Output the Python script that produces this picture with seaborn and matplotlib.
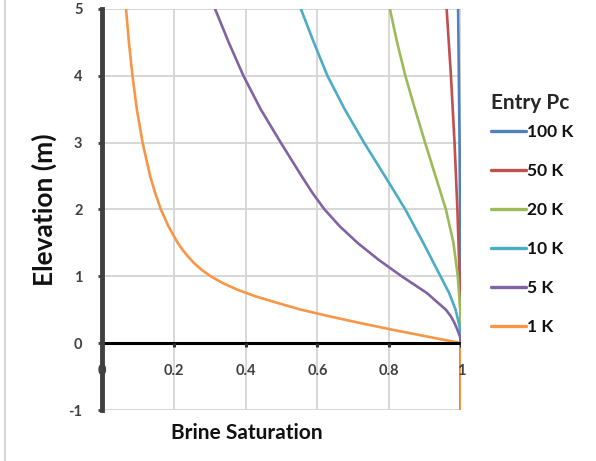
import matplotlib
matplotlib.use("Agg")
import matplotlib.pyplot as plt
from matplotlib.lines import Line2D
import seaborn as sns
import pandas as pd

# Brine saturation profiles vs elevation for each entry capillary pressure
elev_1k = [-1, 0, 0.1, 0.2, 0.3, 0.4, 0.5, 0.6, 0.7, 0.8, 0.9, 1.0, 1.1, 1.2,
           1.3, 1.4, 1.5, 1.75, 2.0, 2.25, 2.5, 3.0, 3.5, 4.0, 4.5, 5.0]
sat_1k = [1.0, 1.0, 0.905, 0.81, 0.72, 0.635, 0.555, 0.49, 0.428, 0.377, 0.336,
          0.303, 0.277, 0.256, 0.239, 0.224, 0.211, 0.185, 0.164, 0.148, 0.134,
          0.113, 0.097, 0.085, 0.075, 0.067]

elev_5k = [-1, 0, 0.1, 0.2, 0.3, 0.4, 0.5, 0.75, 1.0, 1.25, 1.5, 1.75, 2.0, 2.25,
           2.5, 3.0, 3.5, 4.0, 4.5, 5.0]
sat_5k = [1.0, 1.0, 0.997, 0.99, 0.982, 0.972, 0.958, 0.905, 0.835, 0.77, 0.712,
          0.662, 0.62, 0.586, 0.556, 0.498, 0.442, 0.394, 0.353, 0.315]

elev_10k = [-1, 0, 0.25, 0.5, 0.75, 1.0, 1.5, 2.0, 2.5, 3.0, 3.5, 4.0, 4.5, 5.0]
sat_10k = [1.0, 1.0, 0.996, 0.985, 0.967, 0.943, 0.895, 0.845, 0.788, 0.73,
           0.676, 0.628, 0.59, 0.554]

elev_20k = [-1, 0, 0.5, 1.0, 1.5, 2.0, 2.5, 3.0, 3.5, 4.0, 4.5, 5.0]
sat_20k = [1.0, 1.0, 0.998, 0.991, 0.979, 0.958, 0.929, 0.90, 0.872, 0.845,
           0.822, 0.802]

elev_50k = [-1, 0, 1.0, 2.0, 3.0, 4.0, 5.0]
sat_50k = [1.0, 1.0, 0.996, 0.99, 0.982, 0.972, 0.96]

elev_100k = [-1, 0, 3.0, 5.0]
sat_100k = [1.0, 1.0, 0.996, 0.992]

series_names = ["100 K", "50 K", "20 K", "10 K", "5 K", "1 K"]
series_colors = ["#4F81BD", "#C0504D", "#9BBB59", "#4BACC6", "#8064A2", "#F79646"]
series_data = [(elev_100k, sat_100k), (elev_50k, sat_50k), (elev_20k, sat_20k),
               (elev_10k, sat_10k), (elev_5k, sat_5k), (elev_1k, sat_1k)]

x_ticks = [0, 0.2, 0.4, 0.6, 0.8, 1.0]
x_tick_labels = ["0", "0.2", "0.4", "0.6", "0.8", "1"]
y_ticks = [-1, 0, 1, 2, 3, 4, 5]

frames = []
for name, (e, s) in zip(series_names, series_data):
    frames.append(pd.DataFrame({"Elevation": e, "Saturation": s, "Entry Pc": name}))
df = pd.concat(frames, ignore_index=True)

sns.set_theme(style="white")
plt.rcParams["font.family"] = ["Lato", "DejaVu Sans"]
plt.rcParams["axes.unicode_minus"] = False

fig = plt.figure(figsize=(5.96, 4.61), dpi=100)
ax = fig.add_axes([102 / 596, 1 - 410 / 461, 359 / 596, 401 / 461])

sns.lineplot(data=df, x="Saturation", y="Elevation", hue="Entry Pc",
             hue_order=series_names, palette=series_colors, sort=False,
             estimator=None, units="Entry Pc", linewidth=1.9, ax=ax, legend=False)

ax.set_xlim(0, 1)
ax.set_ylim(-1, 5)
ax.set_xticks(x_ticks)
ax.set_yticks(y_ticks)
ax.grid(True, color="#d4d4d4", linewidth=1.3)
ax.set_axisbelow(True)

for side in ["top", "right", "bottom"]:
    ax.spines[side].set_visible(False)
ax.spines["left"].set_color("#404040")
ax.spines["left"].set_linewidth(3.5)
ax.spines["left"].set_zorder(5)

# x axis drawn through zero elevation
ax.axhline(0, color="black", linewidth=2.2, zorder=4)
ax.set_xticklabels([])
ax.tick_params(axis="x", length=0)
for xv, lab in zip(x_ticks, x_tick_labels):
    ax.plot([xv, xv], [0, -0.06], color="#333333", linewidth=2.2, zorder=4,
            solid_capstyle="butt")
    ax.text(xv, -0.42, lab, ha="center", va="center", fontsize=10.5,
            fontweight="bold", color="#404040", zorder=6)

ax.tick_params(axis="y", left=True, length=3, width=2, color="#404040",
               labelsize=10.5, pad=11)
for t in ax.get_yticklabels():
    t.set_fontweight("bold")
    t.set_color("#404040")

ax.set_xlabel("")
ax.set_ylabel("")
fig.text(247 / 596, 1 - 433 / 461, "Brine Saturation", ha="center", va="center",
         fontsize=15, fontweight="bold", color="#111111")
fig.text(44 / 596, 1 - 210 / 461, "Elevation (m)", ha="center", va="center",
         rotation=90, fontsize=19, fontweight="bold", color="#111111")

handles = [Line2D([0], [0], color=c, linewidth=2.4) for c in series_colors]
leg = fig.legend(handles, series_names, title="Entry Pc", loc="upper left",
                 bbox_to_anchor=(491 / 596, 1 - 93 / 461), frameon=False,
                 prop={"weight": "bold", "size": 12.5}, labelspacing=1.32,
                 handlelength=2.0, handletextpad=0.05, borderaxespad=0,
                 borderpad=0)
leg.get_title().set_fontweight("bold")
leg.get_title().set_fontsize(15)
leg._legend_box.align = "left"
leg._legend_box.sep = 8
for txt in leg.get_texts():
    txt.set_color("#111111")

# chart frame edge on the left
fig.add_artist(Line2D([5 / 596, 5 / 596], [0, 1], color="#d0d0d0", linewidth=1.2,
                      transform=fig.transFigure))

fig.savefig("out.png", dpi=100)
